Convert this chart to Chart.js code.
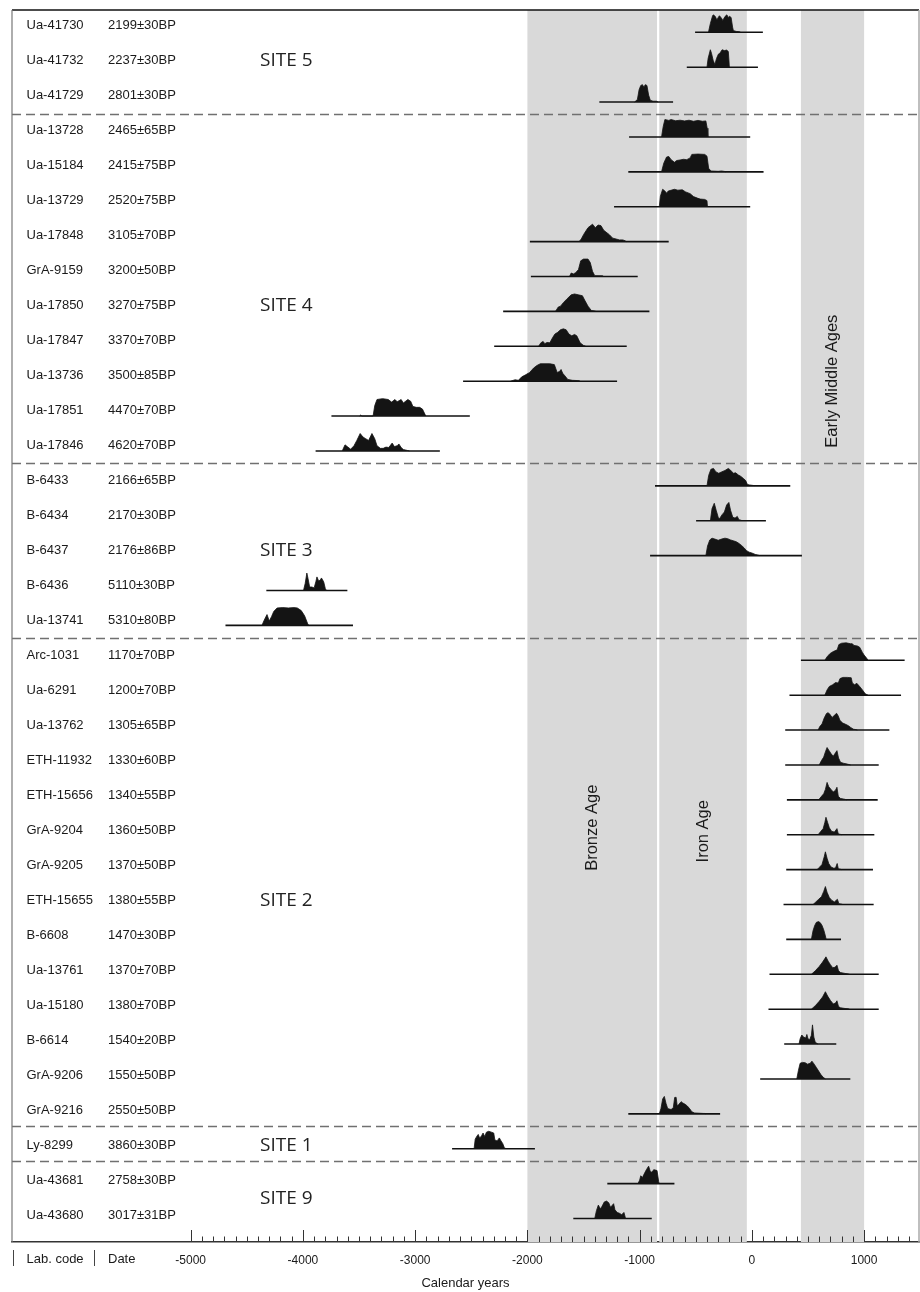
<!DOCTYPE html>
<html lang="en">
<head>
<meta charset="UTF-8">
<title>Calibrated radiocarbon dates by site</title>
<script src="https://cdn.jsdelivr.net/npm/chart.js"></script>
<style>
  body { margin: 0; background: #fff; }
  canvas { display: block; }
</style>
</head>
<body>
<canvas id="dateChart" width="920" height="1292"></canvas>
<script>
// samples, top to bottom
const labCodes = ['Ua-41730','Ua-41732','Ua-41729','Ua-13728','Ua-15184','Ua-13729','Ua-17848','GrA-9159','Ua-17850','Ua-17847','Ua-13736','Ua-17851','Ua-17846','B-6433','B-6434','B-6437','B-6436','Ua-13741','Arc-1031','Ua-6291','Ua-13762','ETH-11932','ETH-15656','GrA-9204','GrA-9205','ETH-15655','B-6608','Ua-13761','Ua-15180','B-6614','GrA-9206','GrA-9216','Ly-8299','Ua-43681','Ua-43680'];
const bpDates = ['2199±30BP','2237±30BP','2801±30BP','2465±65BP','2415±75BP','2520±75BP','3105±70BP','3200±50BP','3270±75BP','3370±70BP','3500±85BP','4470±70BP','4620±70BP','2166±65BP','2170±30BP','2176±86BP','5110±30BP','5310±80BP','1170±70BP','1200±70BP','1305±65BP','1330±60BP','1340±55BP','1360±50BP','1370±50BP','1380±55BP','1470±30BP','1370±70BP','1380±70BP','1540±20BP','1550±50BP','2550±50BP','3860±30BP','2758±30BP','3017±31BP'];

// extent of the thin base line under each curve (cal years, BC negative)
const rangeFrom = [-506,-580,-1359,-1094,-1101,-1228,-1978,-1969,-2216,-2296,-2573,-3746,-3887,-863,-497,-907,-4326,-4690,437,335,297,297,312,312,306,282,306,157,148,288,74,-1101,-2671,-1288,-1591];
const rangeTo = [98,54,-702,-15,104,-15,-741,-1017,-913,-1115,-1201,-2513,-2780,342,125,446,-3604,-3554,1361,1329,1225,1130,1121,1091,1079,1085,794,1130,1130,752,877,-283,-1933,-690,-892];

// probability curves: [cal year, relative height]
const curves = [
  [[-387,0],[-370,0.5],[-350,0.95],[-343,1],[-325,0.9],[-312,0.7],[-300,0.85],[-289,0.95],[-270,0.8],[-259,0.68],[-240,0.9],[-223,1],[-210,0.85],[-200,0.92],[-185,0.85],[-172,0.3],[-165,0.1],[-140,0.05],[-110,0.03],[-100,0]],
  [[-400,0],[-390,0.5],[-370,1],[-360,0.8],[-345,0.4],[-330,0.15],[-315,0.5],[-298,0.75],[-285,0.8],[-265,1],[-245,0.95],[-225,0.98],[-210,0.9],[-200,0]],
  [[-1045,0],[-1020,0.15],[-1005,0.7],[-990,0.95],[-975,1],[-962,0.85],[-950,1],[-935,0.95],[-920,0.4],[-905,0.1],[-880,0.05],[-850,0.05],[-835,0]],
  [[-805,0],[-790,0.6],[-775,1],[-740,0.95],[-720,1],[-680,0.93],[-640,0.96],[-600,0.92],[-560,0.96],[-520,0.9],[-480,0.95],[-440,0.9],[-410,0.92],[-398,0.5],[-392,0]],
  [[-805,0],[-785,0.5],[-760,0.85],[-740,0.88],[-720,0.7],[-690,0.55],[-670,0.65],[-640,0.68],[-610,0.72],[-580,0.7],[-550,0.8],[-535,1],[-480,1.02],[-420,1],[-400,0.9],[-385,0.2],[-365,0.05],[-300,0.03],[-270,0.05],[-240,0.02],[-230,0]],
  [[-825,0],[-815,0.6],[-795,1],[-775,0.9],[-760,0.78],[-745,0.9],[-690,1],[-660,0.95],[-620,0.97],[-590,0.85],[-550,0.75],[-520,0.58],[-480,0.48],[-460,0.44],[-420,0.42],[-400,0.35],[-395,0]],
  [[-1540,0],[-1520,0.15],[-1500,0.4],[-1485,0.55],[-1460,0.8],[-1420,1],[-1395,0.8],[-1370,0.95],[-1345,0.92],[-1320,0.65],[-1300,0.55],[-1270,0.4],[-1240,0.2],[-1210,0.15],[-1180,0.1],[-1150,0.1],[-1130,0.05],[-1120,0]],
  [[-1625,0],[-1610,0.2],[-1590,0.15],[-1570,0.22],[-1545,0.4],[-1525,0.9],[-1500,1],[-1460,1],[-1440,0.8],[-1420,0.3],[-1400,0.05],[-1330,0.04],[-1320,0]],
  [[-1750,0],[-1725,0.25],[-1705,0.3],[-1680,0.5],[-1650,0.7],[-1610,0.95],[-1580,1],[-1545,0.95],[-1510,0.9],[-1490,0.65],[-1460,0.3],[-1430,0.05],[-1400,0.02],[-1390,0]],
  [[-1900,0],[-1880,0.2],[-1860,0.28],[-1845,0.15],[-1825,0.22],[-1800,0.2],[-1775,0.5],[-1755,0.7],[-1730,0.8],[-1705,0.95],[-1680,1],[-1655,0.95],[-1630,0.7],[-1605,0.6],[-1580,0.68],[-1560,0.6],[-1530,0.2],[-1500,0.05],[-1480,0]],
  [[-2150,0],[-2110,0.08],[-2080,0.05],[-2050,0.25],[-2020,0.35],[-1980,0.5],[-1945,0.75],[-1915,0.9],[-1885,1],[-1800,1],[-1760,0.95],[-1735,0.5],[-1715,0.55],[-1700,0.67],[-1685,0.45],[-1665,0.3],[-1640,0.1],[-1600,0.05],[-1540,0.03],[-1530,0]],
  [[-3495,0],[-3485,0.06],[-3475,0],[-3375,0],[-3360,0.6],[-3340,0.95],[-3290,1],[-3240,0.95],[-3210,0.8],[-3180,0.95],[-3160,0.82],[-3125,0.95],[-3105,0.75],[-3065,0.95],[-3040,0.85],[-3020,0.55],[-2990,0.5],[-2960,0.5],[-2935,0.4],[-2905,0]],
  [[-3650,0],[-3625,0.35],[-3605,0.25],[-3575,0.1],[-3545,0.3],[-3520,0.6],[-3490,1],[-3465,0.8],[-3445,0.72],[-3415,0.6],[-3385,1],[-3360,0.7],[-3340,0.3],[-3310,0.15],[-3285,0.15],[-3260,0.22],[-3235,0.2],[-3205,0.45],[-3185,0.25],[-3160,0.3],[-3145,0.4],[-3125,0.2],[-3105,0.08],[-3070,0.03],[-3050,0]],
  [[-400,0],[-385,0.6],[-365,0.95],[-342,1],[-320,0.8],[-295,0.72],[-270,0.8],[-240,0.88],[-210,1],[-190,0.9],[-165,0.72],[-145,0.75],[-120,0.62],[-100,0.55],[-75,0.42],[-55,0.3],[-40,0.08],[-20,0.05],[15,0.02],[20,0]],
  [[-370,0],[-355,0.7],[-335,1],[-318,0.6],[-300,0.2],[-290,0.1],[-265,0.35],[-245,0.5],[-225,0.9],[-205,1.05],[-190,0.6],[-170,0.2],[-150,0.15],[-130,0.25],[-115,0.05],[-95,0.03],[-90,0]],
  [[-410,0],[-395,0.55],[-375,0.9],[-355,1],[-330,0.95],[-300,0.88],[-270,0.95],[-240,1],[-215,0.97],[-190,0.9],[-165,0.85],[-140,0.8],[-120,0.72],[-95,0.6],[-70,0.45],[-50,0.3],[-25,0.2],[0,0.15],[30,0.07],[60,0.02],[70,0]],
  [[-3995,0],[-3980,0.4],[-3965,1],[-3955,0.7],[-3940,0.2],[-3920,0.2],[-3900,0.15],[-3885,0.5],[-3875,0.78],[-3860,0.55],[-3845,0.6],[-3835,0.72],[-3815,0.5],[-3800,0.1],[-3790,0]],
  [[-4365,0],[-4345,0.3],[-4320,0.62],[-4300,0.25],[-4280,0.5],[-4260,0.8],[-4230,1],[-4180,1.02],[-4130,1],[-4080,1.02],[-4050,1],[-4015,0.85],[-3985,0.55],[-3955,0.05],[-3945,0]],
  [[650,0],[670,0.2],[695,0.38],[725,0.5],[760,0.6],[775,0.9],[800,0.98],[840,1],[880,0.95],[895,0.95],[910,0.85],[940,0.82],[960,0.75],[985,0.45],[1000,0.3],[1025,0.1],[1035,0]],
  [[650,0],[670,0.3],[690,0.5],[720,0.6],[745,0.72],[770,0.7],[785,0.95],[810,1.02],[850,1.02],[885,1],[895,0.7],[915,0.6],[935,0.68],[960,0.5],[985,0.3],[1010,0.08],[1035,0]],
  [[590,0],[605,0.2],[625,0.35],[645,0.7],[665,0.95],[680,1],[695,0.9],[715,0.72],[735,0.85],[755,0.96],[770,0.8],[785,0.55],[810,0.4],[835,0.33],[860,0.25],[880,0.15],[905,0.05],[930,0.02],[940,0]],
  [[600,0],[620,0.25],[640,0.45],[655,0.75],[670,1],[685,0.85],[705,0.65],[725,0.5],[745,0.7],[758,0.82],[772,0.4],[790,0.15],[815,0.1],[850,0.05],[880,0]],
  [[595,0],[620,0.2],[640,0.35],[655,0.6],[670,1],[685,0.75],[705,0.6],[725,0.45],[745,0.55],[758,0.72],[770,0.2],[790,0.08],[830,0.03],[845,0]],
  [[590,0],[615,0.2],[635,0.35],[650,0.7],[660,1],[675,0.7],[690,0.4],[710,0.2],[735,0.15],[758,0.35],[770,0.05],[790,0.02],[800,0]],
  [[580,0],[605,0.15],[625,0.3],[645,0.75],[655,1.02],[670,0.65],[685,0.35],[705,0.15],[730,0.08],[745,0.1],[760,0.35],[770,0.05],[790,0.02],[800,0]],
  [[545,0],[570,0.15],[595,0.3],[620,0.45],[640,0.75],[655,1.03],[670,0.7],[690,0.4],[710,0.25],[735,0.15],[762,0.3],[775,0.05],[800,0.02],[810,0]],
  [[530,0],[545,0.5],[560,0.8],[575,0.98],[595,1.02],[610,0.95],[625,0.8],[640,0.55],[655,0.2],[662,0]],
  [[530,0],[565,0.2],[600,0.45],[630,0.7],[650,0.9],[660,1],[680,0.75],[700,0.55],[720,0.38],[740,0.4],[758,0.52],[772,0.2],[790,0.1],[830,0.05],[860,0.02],[870,0]],
  [[530,0],[565,0.2],[600,0.45],[630,0.7],[645,0.88],[655,1],[675,0.75],[700,0.5],[725,0.3],[745,0.35],[758,0.48],[772,0.15],[790,0.08],[830,0.04],[860,0.02],[870,0]],
  [[420,0],[430,0.3],[445,0.52],[460,0.4],[480,0.35],[490,0.55],[500,0.3],[515,0.25],[530,0.5],[540,1.1],[552,0.4],[565,0.1],[585,0.02],[590,0]],
  [[400,0],[415,0.5],[430,0.9],[450,0.95],[475,0.93],[495,0.85],[520,0.9],[535,1.02],[555,0.85],[575,0.65],[595,0.45],[615,0.25],[635,0.1],[650,0.03],[655,0]],
  [[-825,0],[-810,0.3],[-795,0.85],[-780,1],[-765,0.6],[-750,0.3],[-720,0.25],[-700,0.35],[-688,0.94],[-675,0.95],[-665,0.45],[-650,0.55],[-630,0.7],[-615,0.62],[-595,0.55],[-575,0.45],[-555,0.3],[-535,0.12],[-510,0.05],[-450,0.03],[-420,0.02],[-415,0]],
  [[-2475,0],[-2465,0.55],[-2450,0.72],[-2438,0.82],[-2425,0.6],[-2408,0.75],[-2395,0.9],[-2380,0.7],[-2365,0.95],[-2345,1],[-2320,0.95],[-2300,0.9],[-2290,0.5],[-2270,0.45],[-2250,0.62],[-2235,0.45],[-2220,0.3],[-2205,0.05],[-2200,0]],
  [[-1015,0],[-1000,0.2],[-990,0.45],[-975,0.35],[-960,0.55],[-940,0.8],[-920,1],[-905,0.7],[-890,0.65],[-875,0.8],[-860,0.78],[-845,0.75],[-830,0.1],[-825,0]],
  [[-1400,0],[-1385,0.45],[-1368,0.77],[-1350,0.55],[-1335,0.7],[-1315,0.95],[-1295,1],[-1275,0.9],[-1260,0.65],[-1245,0.75],[-1232,0.85],[-1220,0.5],[-1200,0.35],[-1180,0.3],[-1160,0.22],[-1140,0.35],[-1125,0]]
];

const siteNames = ['SITE 5','SITE 4','SITE 3','SITE 2','SITE 1','SITE 9'];
const siteRows = [1, 8, 15, 25, 32, 33.5];
const siteBreaks = [2, 12, 17, 31, 32];   // dashed line below these rows

const periodNames = ['Bronze Age', 'Iron Age', 'Early Middle Ages'];
const periodFrom = [-2000, -825, 437];
const periodTo = [-845, -45, 1000];
const periodLabelRow = [22.8, 22.9, 10.0];

const xTicks = [-5000, -4000, -3000, -2000, -1000, 0, 1000];

const FONT = "'Liberation Sans', Arial, sans-serif";
const INK = '#1a1a1a';
const CURVE_H = 0.5;   // curve height in row units

function textY(y, row) {
  return y.getPixelForValue(row) - 7 + 0.12 * row;
}

const datasets = [];
labCodes.forEach((code, i) => {
  datasets.push({
    label: code + ' range',
    data: [{ x: rangeFrom[i], y: i }, { x: rangeTo[i], y: i }],
    borderColor: '#111',
    borderWidth: 1.6,
    pointRadius: 0,
    fill: false,
    order: 2
  });
  datasets.push({
    label: code,
    data: curves[i].map(p => ({ x: p[0], y: i - p[1] * CURVE_H })),
    borderColor: '#141414',
    borderWidth: 0.8,
    backgroundColor: '#141414',
    pointRadius: 0,
    tension: 0,
    fill: { value: i },
    order: 1
  });
});

const decor = {
  id: 'decor',
  beforeDatasetsDraw(chart) {
    const { ctx, chartArea: a, scales: { x, y } } = chart;
    ctx.save();
    // period bands
    ctx.fillStyle = '#d9d9d9';
    periodFrom.forEach((f, i) => {
      const l = x.getPixelForValue(f), r = x.getPixelForValue(periodTo[i]);
      ctx.fillRect(l, a.top, r - l, a.bottom - a.top);
    });
    // site separators
    ctx.strokeStyle = '#707070';
    ctx.lineWidth = 1.5;
    ctx.setLineDash([9, 5]);
    siteBreaks.forEach(r => {
      const py = Math.round(y.getPixelForValue(r + 0.35)) + 0.5;
      ctx.beginPath();
      ctx.moveTo(a.left, py);
      ctx.lineTo(a.right, py);
      ctx.stroke();
    });
    ctx.setLineDash([]);
    // sample labels
    ctx.fillStyle = INK;
    ctx.font = '13px ' + FONT;
    ctx.textBaseline = 'middle';
    ctx.textAlign = 'left';
    labCodes.forEach((code, i) => {
      const py = textY(y, i);
      ctx.fillText(code, 26.5, py);
      ctx.fillText(bpDates[i], 108, py);
    });
    // site names
    ctx.font = "19px 'Open Sans', 'Noto Sans', sans-serif";
    ctx.fillStyle = '#222';
    siteNames.forEach((s, i) => ctx.fillText(s, 260, textY(y, siteRows[i])));
    // period names, vertical
    ctx.font = '16.5px ' + FONT;
    ctx.textAlign = 'center';
    ctx.fillStyle = INK;
    periodNames.forEach((p, i) => {
      const px = x.getPixelForValue((periodFrom[i] + periodTo[i]) / 2);
      ctx.save();
      ctx.translate(px, y.getPixelForValue(periodLabelRow[i]));
      ctx.rotate(-Math.PI / 2);
      ctx.fillText(p, 0, 0);
      ctx.restore();
    });
    ctx.restore();
  },
  afterDraw(chart) {
    const { ctx, chartArea: a, scales: { x } } = chart;
    ctx.save();
    // frame
    ctx.lineWidth = 1.5;
    ctx.strokeStyle = '#111';
    ctx.beginPath(); ctx.moveTo(a.left, a.top); ctx.lineTo(a.right, a.top); ctx.stroke();
    ctx.strokeStyle = '#777';
    ctx.lineWidth = 1.2;
    ctx.beginPath(); ctx.moveTo(a.left, a.top); ctx.lineTo(a.left, a.bottom); ctx.stroke();
    ctx.strokeStyle = '#aaa';
    ctx.lineWidth = 1.5;
    ctx.beginPath(); ctx.moveTo(a.right, a.top); ctx.lineTo(a.right, a.bottom); ctx.stroke();
    // inward tick marks every 100 years
    ctx.strokeStyle = '#333';
    ctx.lineWidth = 1;
    for (let v = -5000; v <= 1400; v += 100) {
      const px = Math.round(x.getPixelForValue(v)) + 0.5;
      const len = v % 1000 === 0 ? 12 : 5.5;
      ctx.beginPath();
      ctx.moveTo(px, a.bottom);
      ctx.lineTo(px, a.bottom - len);
      ctx.stroke();
    }
    // column key under the labels
    ctx.fillStyle = INK;
    ctx.font = '13px ' + FONT;
    ctx.textBaseline = 'middle';
    ctx.fillText('Lab. code', 26.5, 1259);
    ctx.fillText('Date', 108, 1259);
    ctx.strokeStyle = '#444';
    [13.5, 94.5].forEach(px => {
      ctx.beginPath(); ctx.moveTo(px, 1250); ctx.lineTo(px, 1266); ctx.stroke();
    });
    ctx.restore();
  }
};

new Chart(document.getElementById('dateChart'), {
  type: 'line',
  data: { datasets },
  options: {
    responsive: false,
    animation: false,
    events: [],
    layout: { padding: { left: 12, right: 1, top: 10, bottom: 1 } },
    plugins: { legend: { display: false }, tooltip: { enabled: false } },
    scales: {
      x: {
        type: 'linear',
        min: -6592,
        max: 1489,
        grid: { display: false, drawTicks: false, tickLength: 0 },
        border: { display: true, color: '#333', width: 1.5 },
        afterBuildTicks: s => { s.ticks = xTicks.map(v => ({ value: v })); },
        ticks: {
          padding: 11,
          autoSkip: false,
          maxRotation: 0,
          color: INK,
          font: { family: FONT, size: 12 },
          callback: v => String(v)
        },
        title: {
          display: true,
          text: 'Calendar years',
          color: INK,
          font: { family: FONT, size: 13 },
          // tick padding is reserved twice by the scale, take it back here
          padding: { top: -3, bottom: 0 }
        }
      },
      y: {
        type: 'linear',
        display: false,
        reverse: true,
        min: -0.639,
        max: 34.673
      }
    }
  },
  plugins: [decor]
});
</script>
</body>
</html>
